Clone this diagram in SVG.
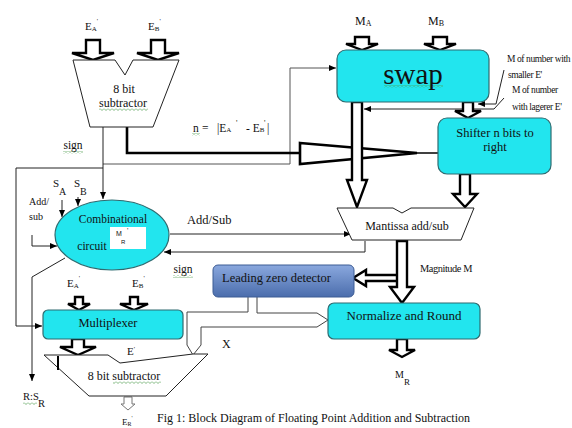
<svg xmlns="http://www.w3.org/2000/svg" width="572" height="428" viewBox="0 0 572 428">
<style>
text{font-family:"Liberation Serif","DejaVu Serif",serif;fill:#111}
.c{text-anchor:middle}
.box{fill:#22e5ee;stroke:#2f6b70;stroke-width:1.2}
.trap{fill:#fff;stroke:#222;stroke-width:1}
.blk{fill:#fff;stroke:#000;stroke-width:2.4}
.ln{fill:none;stroke:#222;stroke-width:1}
.gl{fill:none;stroke:#555;stroke-width:1}
.thick{fill:none;stroke:#000;stroke-width:2.6}
.sq{fill:url(#sq)}
.sm{font-size:9.5px;letter-spacing:-0.4px}
</style>
<defs>
<marker id="ah" markerWidth="8" markerHeight="8" refX="7" refY="4" orient="auto" markerUnits="userSpaceOnUse">
<path d="M0,1 L7,4 L0,7 Z" fill="#000"/>
</marker>
<linearGradient id="lzg" x1="0" y1="0" x2="0" y2="1">
<stop offset="0" stop-color="#8aa8de"/>
<stop offset="1" stop-color="#4b6dac"/>
</linearGradient>
<pattern id="sq" width="4" height="3" patternUnits="userSpaceOnUse">
<path d="M0,0.5 L2,2.5 L4,0.5" fill="none" stroke="#4a9a4a" stroke-width="0.7"/>
</pattern>
</defs>
<rect width="572" height="428" fill="#fff"/>

<!-- thin and thick connectors -->
<g id="connectors">
<path class="gl" d="M103,164 H290 V68 H336" marker-end="url(#ah)"/>
<path class="ln" d="M103,127 V199" marker-end="url(#ah)"/>
<path class="ln" d="M103,168 H16 V326 H42" marker-end="url(#ah)"/>
<path class="thick" d="M127,127 V153 H300"/>
<path d="M300,143 L417,153 L300,164 Z" fill="#fff" stroke="#000" stroke-width="2.6" stroke-linejoin="miter"/>
<path d="M417,153 H438" stroke="#000" stroke-width="1.5"/>
<path class="ln" d="M504,70 L496,104 H478" marker-end="url(#ah)"/>
<path class="ln" d="M504,98 L494,109 H364" marker-end="url(#ah)"/>
<path class="ln" d="M62,200 V217" marker-end="url(#ah)"/>
<path class="ln" d="M78,197 V206" marker-end="url(#ah)"/>
<path class="ln" d="M32,235 V246 H57" marker-end="url(#ah)"/>
<path class="ln" d="M65,258 L32,277 V381" marker-end="url(#ah)"/>
<path class="ln" d="M170,234 H351" marker-end="url(#ah)"/>
<path class="ln" d="M365,241 V252 H164" marker-end="url(#ah)"/>
<path fill="none" stroke="#444" stroke-width="1" d="M248,297 V312 H187 V345 L193,355 L201,345 V327 H317 L328,320 L317,313 H257 V297"/>

<!-- block arrows -->
<path class="blk" d="M86,40 H100 V53 H114 L93,60 L72,53 H86 Z"/>
<path class="blk" d="M151,40 H165 V53 H179 L158,60 L137,53 H151 Z"/>
<path class="blk" d="M355,37 H369 V44 H378 L362,50 L346,44 H355 Z"/>
<path class="blk" d="M433,37 H447 V44 H456 L440,50 L424,44 H433 Z"/>
<path class="blk" d="M463,102 H473 V111 H481 L468,118 L455,111 H463 Z"/>
<path class="blk" d="M352,102 H362 V180 H367 L357,207 L347,180 H352 Z"/>
<path class="blk" d="M460,174 H470 V194 H477 L465,207 L453,194 H460 Z"/>
<path class="blk" d="M398,275 H366 V270 L353,278 L366,286 V281 H398 Z"/>
<path class="blk" d="M397,241 H407 V287 H414 L402,303 L390,287 H397 Z"/>
<path class="blk" d="M397,339 H407 V350 H415 L402,357 L389,350 H397 Z"/>
<path class="blk" d="M75,297 H83 V304 H90 L79,310 L68,304 H75 Z"/>
<path class="blk" d="M130,297 H138 V304 H148 L134,310 L120,304 H130 Z"/>
<path class="blk" d="M72,339 H84 V347 H96 L78,355 L60,347 H72 Z"/>
<path d="M124,397 H132 V404 H135 L128,410 L121,404 H124 Z" fill="#fff" stroke="#777" stroke-width="1"/>
</g>

<!-- exponent subtractor -->
<g id="exp-subtractor">
<path class="trap" d="M73,60 H115 L125,75 L133,60 H179 L153,127 H90 Z"/>
<text class="c" x="124" y="93" font-size="12">8 bit</text>
<rect class="sq" x="99" y="108" width="49" height="3"/>
<text class="c" x="123" y="107" font-size="12">subtractor</text>
</g>

<g id="swap">
<rect class="box" x="337" y="50" width="152" height="52" rx="9"/>
<rect class="sq" x="384" y="85" width="59" height="3"/>
<text class="c" x="413" y="84" font-size="29">swap</text>
</g>

<g id="shifter">
<rect class="box" x="438" y="118" width="113" height="56" rx="9"/>
<text class="c" x="495" y="137" font-size="12.5">Shifter n bits to</text>
<text class="c" x="495" y="151" font-size="12.5">right</text>
</g>

<g id="mantissa">
<path class="trap" d="M337,208 H393 L402,213 L411,208 H474 L461,240 H352 Z"/>
<text class="c" x="407" y="230" font-size="12">Mantissa add/sub</text>
</g>

<g id="combinational">
<ellipse class="box" cx="112" cy="235" rx="57" ry="35"/>
<text class="c" x="113" y="223" font-size="11.5">Combinational</text>
<text class="c" x="92" y="250" font-size="11.5">circuit</text>
<rect x="110" y="227" width="36" height="22" fill="#fff"/>
<text x="116" y="236" font-size="7" style="font-family:'Liberation Sans',Arial,sans-serif">M</text>
<text x="127" y="233" font-size="7" style="font-family:'Liberation Sans',Arial,sans-serif">'</text>
<text x="121" y="244" font-size="6" style="font-family:'Liberation Sans',Arial,sans-serif">R</text>
</g>

<g id="leading-zero">
<rect x="213" y="265" width="141" height="32" rx="5" fill="url(#lzg)" stroke="#3d5c94" stroke-width="1"/>
<text x="222" y="282" font-size="12.5" fill="#14233d">Leading zero detector</text>
</g>

<g id="normalize">
<rect class="box" x="328" y="303" width="152" height="36" rx="6"/>
<text class="c" x="404" y="320" font-size="13">Normalize and Round</text>
</g>

<g id="multiplexer">
<rect class="box" x="43" y="310" width="140" height="29" rx="5"/>
<text class="c" x="108" y="327" font-size="12.5">Multiplexer</text>
</g>

<g id="result-subtractor">
<path class="trap" d="M44,355 H108 L120,363 L193,354 H208 L166,396 H89 Z"/>
<path d="M58,356 V370" stroke="#000" stroke-width="2"/>
<rect class="sq" x="113" y="381" width="48" height="3"/>
<text class="c" x="124" y="380" font-size="12">8 bit subtractor</text>
</g>

<!-- labels -->
<g id="labels">
<text x="85" y="30" font-size="11">E<tspan font-size="7" dy="1">A</tspan><tspan font-size="7" dy="-8">'</tspan></text>
<text x="148" y="30" font-size="11">E<tspan font-size="7" dy="1">B</tspan><tspan font-size="7" dy="-8">'</tspan></text>
<text x="355" y="25" font-size="12">M<tspan font-size="8" dy="1">A</tspan></text>
<text x="428" y="25" font-size="12">M<tspan font-size="8" dy="1">B</tspan></text>
<rect class="sq" x="192" y="133" width="8" height="3"/>
<text y="132" font-size="11.5"><tspan x="193">n</tspan><tspan x="202">=</tspan><tspan x="217">|E</tspan><tspan font-size="7" dy="0">A</tspan><tspan x="236" font-size="8" dy="-6">'</tspan><tspan x="246" dy="6">- E</tspan><tspan font-size="7">B</tspan><tspan x="264" font-size="8" dy="-6">'</tspan><tspan x="267" dy="6">|</tspan></text>
<rect class="sq" x="63" y="151" width="20" height="3"/>
<text class="c" x="73" y="149" font-size="11.5">sign</text>
<text x="53" y="187" font-size="11">S</text>
<text x="59" y="195" font-size="10">A</text>
<text x="74" y="187" font-size="11">S</text>
<text x="80" y="195" font-size="10">B</text>
<text x="29" y="205" font-size="10">Add/</text>
<text x="29" y="220" font-size="10">sub</text>
<text x="187" y="224" font-size="12.5">Add/Sub</text>
<rect class="sq" x="173" y="275" width="20" height="3"/>
<text class="c" x="183" y="273" font-size="11.5">sign</text>
<text x="67" y="287" font-size="11">E<tspan font-size="7" dy="1">A</tspan><tspan font-size="7" dy="-8">'</tspan></text>
<text x="132" y="287" font-size="11">E<tspan font-size="7" dy="1">B</tspan><tspan font-size="7" dy="-8">'</tspan></text>
<text x="222" y="348" font-size="12">X</text>
<text x="127" y="355" font-size="11">E<tspan font-size="7" dy="-4">'</tspan></text>
<rect class="sq" x="23" y="402" width="14" height="3"/>
<text x="23" y="400" font-size="10.5">R:S</text>
<text x="38" y="407" font-size="10.5">R</text>
<text x="122" y="425" font-size="9" fill="#555">E<tspan font-size="6" dy="1">R</tspan><tspan font-size="6" dy="-6">'</tspan></text>
<text x="420" y="272" class="sm" textLength="52" lengthAdjust="spacingAndGlyphs">Magnitude M</text>
<text x="395" y="378" font-size="10">M</text>
<text x="404" y="385" font-size="9">R</text>
<text x="507" y="62" class="sm">M of number with</text>
<text x="508" y="78" class="sm">smaller E'</text>
<text x="512" y="93" class="sm">M of number</text>
<text x="512" y="110" class="sm">with lagerer E'</text>
<text x="157" y="422" font-size="12">Fig 1: Block Diagram of Floating Point Addition and Subtraction</text>
</g>
</svg>
